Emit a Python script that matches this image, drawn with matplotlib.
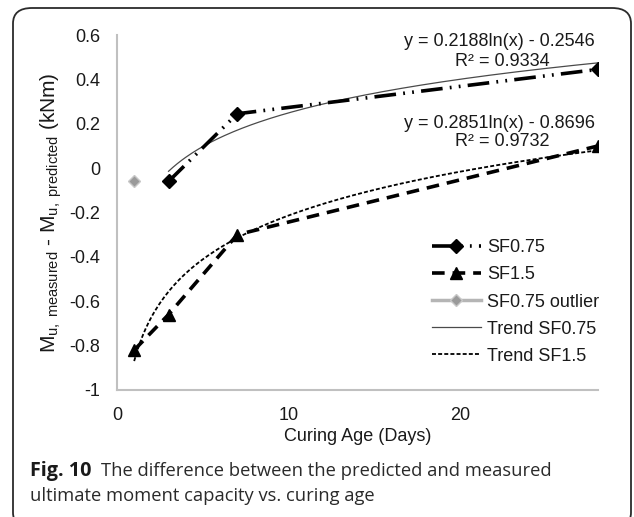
import numpy as np
import matplotlib.pyplot as plt
from matplotlib.patches import FancyBboxPatch
from matplotlib.lines import Line2D

plt.rcParams['font.family'] = ['Liberation Sans', 'DejaVu Sans']
plt.rcParams['mathtext.fontset'] = 'custom'
plt.rcParams['mathtext.rm'] = 'Liberation Sans'
plt.rcParams['mathtext.it'] = 'Liberation Sans:italic'

# %% Data
days_sf075 = [3, 7, 28]
diff_sf075 = [-0.06, 0.245, 0.445]
days_sf15 = [1, 3, 7, 28]
diff_sf15 = [-0.82, -0.66, -0.30, 0.10]
days_outlier = [1]
diff_outlier = [-0.058]

# logarithmic trend lines as printed on the chart: y = a ln(x) + b
trend_sf075 = [0.2188, -0.2546]
trend_sf15 = [0.2851, -0.8696]
trend_sf075_span = [3, 28]
trend_sf15_span = [1, 28]

W, H = 634, 517
FS = 13
fig = plt.figure(figsize=(W / 100, H / 100), dpi=100)


def px(x, y):
    """pixel (from top-left) -> figure fraction"""
    return x / W, 1 - y / H


# rounded frame around the figure + caption
frame = FancyBboxPatch(px(13, 528), (631 - 13) / W, (528 - 8) / H,
                       boxstyle='round,pad=0,rounding_size=0.03',
                       transform=fig.transFigure, fill=False,
                       edgecolor='#2b2b2b', linewidth=1.3, clip_on=False)
fig.patches.append(frame)

ax = fig.add_axes([117 / W, 1 - 390 / H, (598 - 117) / W, (390 - 35) / H])

grey_axis = '#c0c0c0'
for s in ['top', 'right']:
    ax.spines[s].set_visible(False)
for s in ['left', 'bottom']:
    ax.spines[s].set_color(grey_axis)
    ax.spines[s].set_linewidth(1.5)
ax.tick_params(length=0, labelsize=FS, colors='#1a1a1a')
ax.tick_params(axis='y', pad=12)
ax.tick_params(axis='x', pad=12)
ax.set_xlim(0, 28)
ax.set_ylim(-1, 0.6)
ax.set_xticks([0, 10, 20])
ax.set_yticks([-1, -0.8, -0.6, -0.4, -0.2, 0, 0.2, 0.4, 0.6])
ax.set_yticklabels(['-1', '-0.8', '-0.6', '-0.4', '-0.2', '0', '0.2', '0.4', '0.6'])

# trend lines
x1 = np.linspace(*trend_sf075_span, 200)
ax.plot(x1, trend_sf075[0] * np.log(x1) + trend_sf075[1],
        color='#4a4a4a', lw=0.9, zorder=2)
x2 = np.linspace(*trend_sf15_span, 200)
ax.plot(x2, trend_sf15[0] * np.log(x2) + trend_sf15[1],
        color='black', lw=1.3, dashes=(2.2, 1.2), zorder=2)

# measured series
ax.plot(days_sf075, diff_sf075, color='black', lw=2.6,
        dashes=(6, 2, 0.5, 2, 0.5, 2), marker='D', markersize=7, zorder=3)
ax.plot(days_sf15, diff_sf15, color='black', lw=2.6, dashes=(3.5, 2.2),
        marker='^', markersize=9, zorder=3)
ax.plot(days_outlier, diff_outlier, linestyle='none', marker='D',
        markersize=6.5, markerfacecolor='#9a9a9a',
        markeredgecolor='#c8c8c8', zorder=3)

ax.set_xlabel('Curing Age (Days)', fontsize=FS, labelpad=3, color='#1a1a1a')
ax.set_ylabel(r'M$_{\mathrm{u,\ measured}}$ - M$_{\mathrm{u,\ predicted}}$ (kNm)',
              fontsize=15, labelpad=4, color='#1a1a1a')

# trend equations
eq_kw = dict(fontsize=FS, color='#1a1a1a', va='center')
fig.text(*px(595, 41), 'y = 0.2188ln(x) - 0.2546', ha='right', **eq_kw)
fig.text(*px(502, 61), 'R² = 0.9334', ha='center', **eq_kw)
fig.text(*px(595, 123), 'y = 0.2851ln(x) - 0.8696', ha='right', **eq_kw)
fig.text(*px(502, 142), 'R² = 0.9732', ha='center', **eq_kw)

# legend
handles = [
    Line2D([], [], color='black', lw=2.6, dashes=(6, 2, 0.5, 2, 0.5, 2),
           marker='D', markersize=7),
    Line2D([], [], color='black', lw=2.6, dashes=(3.5, 2.2),
           marker='^', markersize=8),
    Line2D([], [], color='#b5b5b5', lw=2.5, marker='D', markersize=6,
           markerfacecolor='#9a9a9a', markeredgecolor='#c8c8c8'),
    Line2D([], [], color='#4a4a4a', lw=0.9),
    Line2D([], [], color='black', lw=1.3, dashes=(2.2, 1.2)),
]
labels = ['SF0.75', 'SF1.5', 'SF0.75 outlier', 'Trend SF0.75', 'Trend SF1.5']
fig.legend(handles, labels, loc='center left',
           bbox_to_anchor=px(432, 302), bbox_transform=fig.transFigure,
           frameon=False, fontsize=FS, handlelength=2.7,
           handletextpad=0.35, labelspacing=0.56, borderpad=0,
           borderaxespad=0, labelcolor='#1a1a1a')

# caption
cap_font = ['Open Sans', 'DejaVu Sans']
fig.text(*px(30, 471), 'Fig. 10', family=cap_font, fontweight='bold',
         fontsize=14.2, va='center', ha='left', color='#1a1a1a')
fig.text(*px(101, 471), 'The difference between the predicted and measured',
         family=cap_font, fontsize=13.2, va='center', ha='left',
         color='#2a2a2a')
fig.text(*px(30, 496), 'ultimate moment capacity vs. curing age',
         family=cap_font, fontsize=13.2, va='center', ha='left',
         color='#2a2a2a')

fig.savefig('out.png', dpi=100)
